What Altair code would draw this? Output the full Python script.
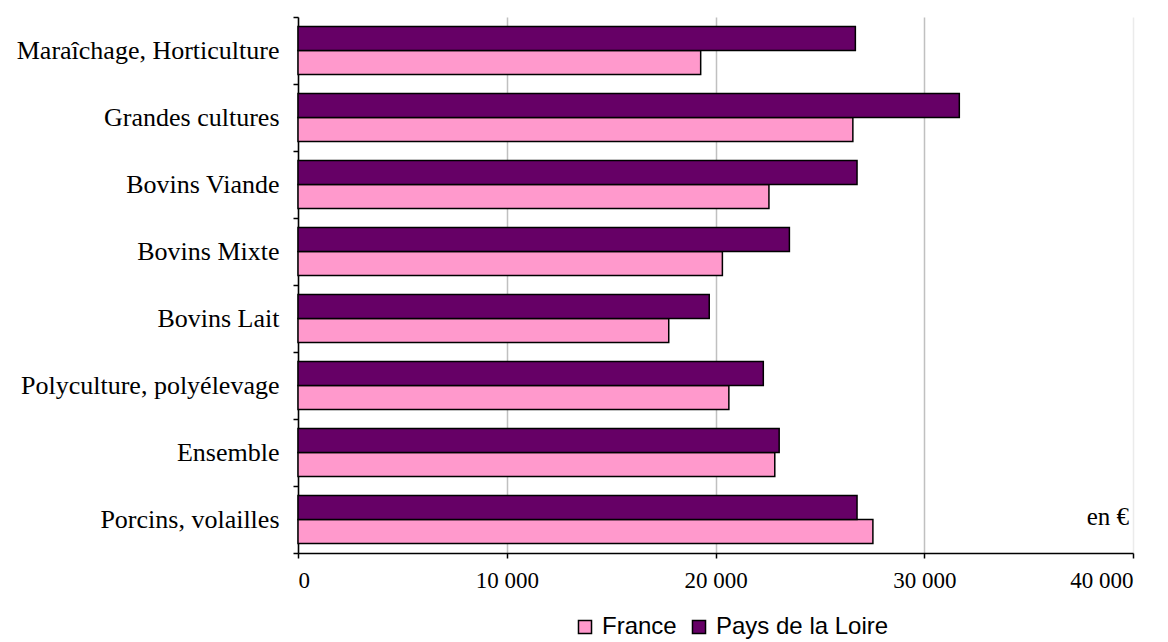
import altair as alt
import pandas as pd

categories = [
    "Maraîchage, Horticulture",
    "Grandes cultures",
    "Bovins Viande",
    "Bovins Mixte",
    "Bovins Lait",
    "Polyculture, polyélevage",
    "Ensemble",
    "Porcins, volailles",
]
france = [19290, 26580, 22560, 20330, 17760, 20640, 22840, 27540]
pays_de_la_loire = [26700, 31680, 26780, 23540, 19700, 22290, 23050, 26780]
series = ["France", "Pays de la Loire"]
colors = ["#FF99CC", "#660066"]
x_ticks = [0, 10000, 20000, 30000, 40000]
unit_label = "en €"

rows = []
for c, f, p in zip(categories, france, pays_de_la_loire):
    rows.append({"category": c, "series": "France", "value": f})
    rows.append({"category": c, "series": "Pays de la Loire", "value": p})
df = pd.DataFrame(rows)

x_scale = alt.Scale(domain=[x_ticks[0], x_ticks[-1]], nice=False, zero=True)
y_scale = alt.Scale(paddingInner=0, paddingOuter=0)

bars = alt.Chart(df).mark_bar(stroke="black", strokeWidth=1.5).encode(
    x=alt.X(
        "value:Q",
        scale=x_scale,
        axis=alt.Axis(
            values=x_ticks,
            title=None,
            labelExpr="replace(format(datum.value, ','), ',', ' ')",
            labelFont="Liberation Serif",
            labelFontSize=23,
            labelColor="black",
            labelPadding=11,
            tickSize=5,
            grid=True,
            gridColor={"condition": {"test": "datum.value === 40000", "value": "#EBEBEB"}, "value": "#C0C0C0"},
            gridWidth=1.5,
        ),
    ),
    y=alt.Y(
        "category:N",
        sort=categories,
        scale=y_scale,
        axis=alt.Axis(
            title=None,
            tickBand="extent",
            labelFont="Liberation Serif",
            labelFontSize=26,
            labelColor="black",
            labelPadding=14,
            labelLimit=0,
            tickSize=5,
            grid=False,
        ),
    ),
    yOffset=alt.YOffset(
        "series:N",
        sort=["Pays de la Loire", "France"],
        scale=alt.Scale(paddingInner=0, paddingOuter=0.4),
    ),
    color=alt.Color(
        "series:N",
        scale=alt.Scale(domain=series, range=colors),
        legend=alt.Legend(
            title=None,
            orient="none",
            legendX=275,
            legendY=598,
            direction="horizontal",
            symbolType="square",
            symbolSize=170,
            symbolStrokeColor="black",
            symbolStrokeWidth=1.5,
            labelFont="Liberation Sans",
            labelFontSize=24,
            labelColor="black",
            labelOffset=5,
            labelLimit=0,
            columnPadding=10,
            padding=0,
        ),
    ),
)

text_df = pd.DataFrame({"category": [categories[-1]], "value": [x_ticks[-1]], "label": [unit_label]})
text = alt.Chart(text_df).mark_text(
    align="right", baseline="middle", font="Liberation Serif", fontSize=25, color="black", dx=-4, dy=-3
).encode(
    x=alt.X("value:Q", scale=x_scale),
    y=alt.Y("category:N", sort=categories, scale=y_scale),
    text="label:N",
)

chart = alt.layer(bars, text).properties(
    width=835,
    height=536,
    autosize=alt.AutoSizeParams(type="none"),
    padding={"left": 298, "top": 17, "right": 35, "bottom": 89},
).configure_view(stroke=None).configure_axis(
    domainColor="black", domainWidth=1.5, tickColor="black", tickWidth=1.5
)

chart.save("out.html", embed_options={"renderer": "svg", "actions": False})
